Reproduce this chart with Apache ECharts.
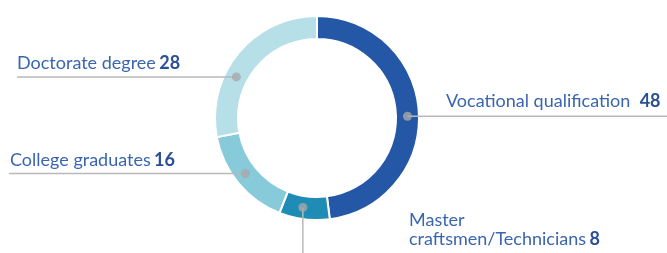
<!DOCTYPE html>
<html>
<head>
<meta charset="utf-8">
<script src="https://cdn.jsdelivr.net/npm/echarts@6/dist/echarts.min.js"></script>
<style>
  html, body { margin: 0; padding: 0; background: #fff; }
  #chart { width: 667px; height: 253px; }
</style>
</head>
<body>
<div id="chart"></div>
<script>
const categories = ['Vocational qualification', 'Master\ncraftsmen/Technicians', 'College graduates', 'Doctorate degree']
const values = [48, 8, 16, 28]
const colors = ['#2457a6', '#1f8cb5', '#87cad9', '#b6dfe8']

// where each label dot sits along the ring (percent of the full circle)
const anchors = [24.7, 52.5, 64.5, 82.5]

const cx = 317, cy = 118, rIn = 79, rOut = 102, rDot = 90.5

function dotPos(a) {
  const t = a / 100 * Math.PI * 2
  return [cx + rDot * Math.sin(t), cy - rDot * Math.cos(t)]
}

// label placement: text x/y and where the leader line ends
const labelSpots = [
  { x: 446, y: 111, line: 'right', end: 667 },
  { x: 409, y: 249, line: 'down', end: 253 },
  { x: 10, y: 170, line: 'left', end: 9 },
  { x: 17, y: 73, line: 'left', end: 17 }
]

const font = 'Lato'
const chart = echarts.init(document.getElementById('chart'))

const pieData = categories.map((name, i) => ({
  name,
  value: values[i],
  itemStyle: { color: colors[i] }
}))

const option = {
  animation: false,
  polar: { center: [cx, cy], radius: rOut },
  angleAxis: { type: 'value', min: 0, max: 100, startAngle: 90, clockwise: true, show: false },
  radiusAxis: { type: 'value', min: 0, max: rOut, show: false },
  series: [
    {
      // the ring itself
      type: 'pie',
      center: [cx, cy],
      radius: [rIn, rOut],
      startAngle: 90,
      clockwise: true,
      z: 1,
      silent: true,
      itemStyle: { borderColor: '#fff', borderWidth: 2 },
      label: { show: false },
      labelLine: { show: false },
      data: pieData
    },
    {
      // same ring, invisible, only carries labels and leader lines on top
      type: 'pie',
      center: [cx, cy],
      radius: [rIn, rOut],
      startAngle: 90,
      clockwise: true,
      z: 3,
      silent: true,
      itemStyle: { color: 'rgba(0,0,0,0)', borderWidth: 0 },
      data: categories.map((name, i) => ({ name, value: values[i] })),
      label: {
        show: true,
        position: 'outside',
        overflow: 'none',
        formatter: p => {
          if (p.dataIndex === 1) {
            return '{n|Master}\n{n|craftsmen/Technicians} {v|' + p.value + '}'
          }
          const v = p.dataIndex === 0 ? 'w' : 'v'
          return '{n|' + p.name + '} {' + v + '|' + p.value + '}'
        },
        rich: {
          n: { fontFamily: font, fontSize: 18, color: '#3a66b0', lineHeight: 19 },
          v: { fontFamily: font, fontSize: 18, fontWeight: 'bold', color: '#2a4f95', lineHeight: 19 },
          w: { fontFamily: font, fontSize: 18, fontWeight: 'bold', color: '#2a4f95', lineHeight: 19, padding: [0, 0, 0, 6] }
        }
      },
      labelLine: {
        show: true,
        lineStyle: { color: '#b9b9b9', width: 1.5 }
      },
      labelLayout: params => {
        const i = params.dataIndex
        const s = labelSpots[i]
        const d = dotPos(anchors[i])
        const pts = s.line === 'down'
          ? [[d[0], d[1]], [d[0], s.end], [d[0], s.end]]
          : [[d[0], d[1]], [s.end, d[1]], [s.end, d[1]]]
        return {
          x: s.x,
          y: s.y,
          align: 'left',
          verticalAlign: 'bottom',
          labelLinePoints: pts
        }
      }
    },
    {
      type: 'scatter',
      coordinateSystem: 'polar',
      z: 5,
      symbol: 'circle',
      symbolSize: 9,
      itemStyle: { color: '#a6a8ab' },
      silent: true,
      data: anchors.map(a => [rDot, a])
    }
  ]
}

chart.setOption(option)
</script>
</body>
</html>
